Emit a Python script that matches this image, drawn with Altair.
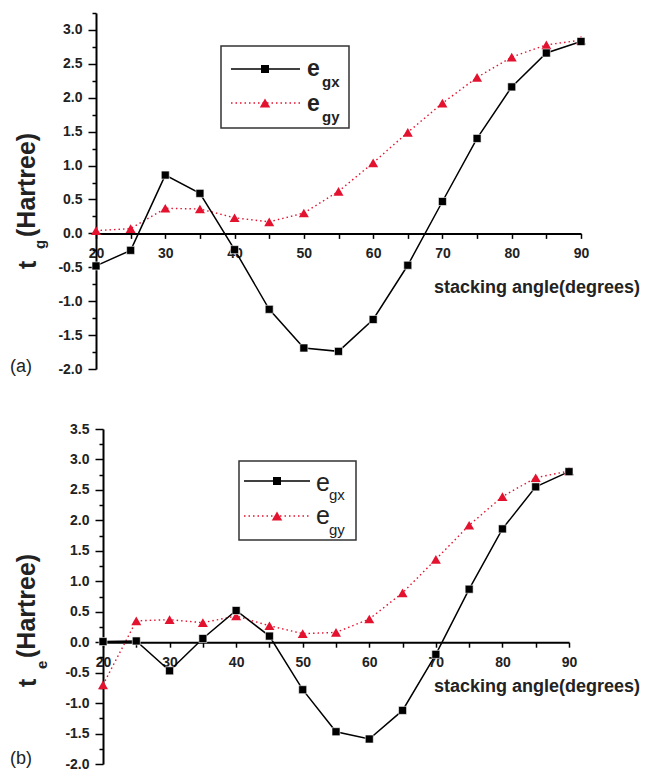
import altair as alt
import pandas as pd

# ---------------- data ----------------
angles = [20, 25, 30, 35, 40, 45, 50, 55, 60, 65, 70, 75, 80, 85, 90]
top_egx = [-0.48, -0.25, 0.86, 0.59, -0.24, -1.12, -1.69, -1.74, -1.27, -0.47, 0.47, 1.40, 2.16, 2.66, 2.83]
top_egy = [0.04, 0.07, 0.37, 0.36, 0.23, 0.17, 0.30, 0.62, 1.04, 1.49, 1.92, 2.30, 2.60, 2.78, 2.85]
bot_egx = [0.01, 0.02, -0.47, 0.06, 0.52, 0.10, -0.78, -1.47, -1.59, -1.12, -0.20, 0.87, 1.86, 2.55, 2.80]
bot_egy = [-0.70, 0.35, 0.37, 0.32, 0.43, 0.27, 0.14, 0.16, 0.38, 0.81, 1.36, 1.92, 2.39, 2.70, 2.81]
series_names = ["egx", "egy"]
x_ticks = list(range(20, 95, 5))
top_y_ticks = [round(-2 + 0.25 * i, 2) for i in range(22)]
bot_y_ticks = [round(-2 + 0.25 * i, 2) for i in range(23)]

RED = "#e3122f"
FONT = "Liberation Sans"
TXT = "#222222"
MINOR = "abs(datum.value*2 - round(datum.value*2)) > 0.01"
one = pd.DataFrame({"k": [0]})


def txt(s, x, y, size, weight="normal", angle=0, align="left", baseline="alphabetic"):
    return alt.Chart(one).mark_text(
        text=s, fontSize=size, fontWeight=weight, font=FONT, angle=angle,
        align=align, baseline=baseline, color=TXT
    ).encode(x=alt.value(x), y=alt.value(y))


def panel(egx, egy, ydom, w, h, x0, yticks, zero_off, letter, letter_y,
          sub, t_pos, lg, bold_leg, xt_y):
    df = pd.DataFrame({
        "angle": angles + angles,
        "val": egx + egy,
        "series": [series_names[0]] * len(angles) + [series_names[1]] * len(angles),
    })
    x = alt.X("angle:Q",
              scale=alt.Scale(domain=[20, 90], nice=False, zero=False, range=[x0, w]),
              axis=alt.Axis(values=x_ticks,
                            labelExpr="datum.value % 10 == 0 ? datum.label : ''",
                            tickSize=5, tickWidth=1.5, domainWidth=2,
                            domainColor="black", tickColor="black",
                            offset=zero_off, labelPadding=8, grid=False, title=None,
                            labelFlush=False, labelOverlap=False,
                            labelFont=FONT, labelFontSize=14, labelFontWeight="bold",
                            labelColor=TXT))
    y = alt.Y("val:Q",
              scale=alt.Scale(domain=ydom, nice=False, zero=False),
              axis=alt.Axis(values=yticks,
                            labelExpr=MINOR + " ? '' : replace(format(datum.value, '.1f'), '\u2212', '-')",
                            tickSize={"condition": {"test": MINOR, "value": 4}, "value": 8},
                            tickWidth=1.5, domainWidth=2, domainColor="black",
                            tickColor="black", offset=-x0, labelPadding=6, grid=False,
                            title=None, labelFlush=False, labelOverlap=False,
                            labelFont=FONT, labelFontSize=14, labelFontWeight="bold",
                            labelColor=TXT))
    base = alt.Chart(df).encode(x=x, y=y)
    gx = base.transform_filter(alt.datum.series == "egx")
    gy = base.transform_filter(alt.datum.series == "egy")
    layers = [
        gy.mark_line(color=RED, strokeWidth=1.4, strokeDash=[1.5, 3]),
        gx.mark_line(color="black", strokeWidth=1.5),
        gy.mark_point(shape="triangle-up", filled=True, size=100, color=RED, opacity=1),
        gx.mark_point(shape="square", filled=True, size=64, color="black",
                      stroke="white", strokeWidth=0.6, opacity=1),
    ]
    # legend box
    bx0, bx1, by0, by1, lx0, lx1, lmx, r1, r2, ex, sx, e1, s1, e2, s2, efs, sfs = lg
    w8 = "bold" if bold_leg else "normal"
    layers += [
        alt.Chart(one).mark_rect(fill="white", stroke="#333333", strokeWidth=1.5).encode(
            x=alt.value(bx0), x2=alt.value(bx1), y=alt.value(by0), y2=alt.value(by1)),
        alt.Chart(one).mark_rule(color="black", strokeWidth=1.5).encode(
            x=alt.value(lx0), x2=alt.value(lx1), y=alt.value(r1)),
        alt.Chart(one).mark_point(shape="square", filled=True, size=64, color="black", opacity=1).encode(
            x=alt.value(lmx), y=alt.value(r1)),
        alt.Chart(one).mark_rule(color=RED, strokeWidth=1.3, strokeDash=[1.5, 3]).encode(
            x=alt.value(lx0), x2=alt.value(lx1), y=alt.value(r2)),
        alt.Chart(one).mark_point(shape="triangle-up", filled=True, size=110, color=RED, opacity=1).encode(
            x=alt.value(lmx), y=alt.value(r2)),
        txt("e", ex, e1, efs, w8),
        txt("gx", sx, s1, sfs, w8),
        txt("e", ex, e2, efs, w8),
        txt("gy", sx, s2, sfs, w8),
    ]
    # y title with subscript
    tx, ty, sbx, sby, hx, hy = t_pos
    layers += [
        txt("t", tx, ty, 25, "bold", angle=270),
        txt(sub, sbx, sby, 15, "bold", angle=270),
        txt("(Hartree)", hx, hy, 25, "bold", angle=270),
        txt("stacking angle(degrees)", 544, xt_y, 18, "bold", align="right", baseline="middle"),
        txt(letter, -86, letter_y, 18, "normal"),
    ]
    return alt.layer(*layers).properties(width=w, height=h)


top = panel(top_egx, top_egy, [-2, 3.25], 485, 356, 0, top_y_ticks, -135.6,
            "(a)", 359, "g", (-60, 256, -51, 236, -61, 224),
            (125, 253, 33, 115, 135, 204, 169, 56, 90, 211, 226, 63, 74, 98, 109, 23, 15),
            True, 275)
bottom = panel(bot_egx, bot_egy, [-2, 3.5], 473, 335, 7, bot_y_ticks, -121.8,
               "(b)", 335, "e", (-60, 258, -49, 240, -61, 229),
               (143, 260, 32, 111, 148, 214, 181, 52, 87, 220, 233, 62, 71, 95, 106, 25, 15),
               False, 258)

chart = alt.vconcat(top, bottom, spacing=44).properties(
    padding={"left": 1, "top": -3, "right": 0, "bottom": -2}
).configure_view(stroke="transparent")

chart.save("out.html", embed_options={"renderer": "svg", "actions": False})
